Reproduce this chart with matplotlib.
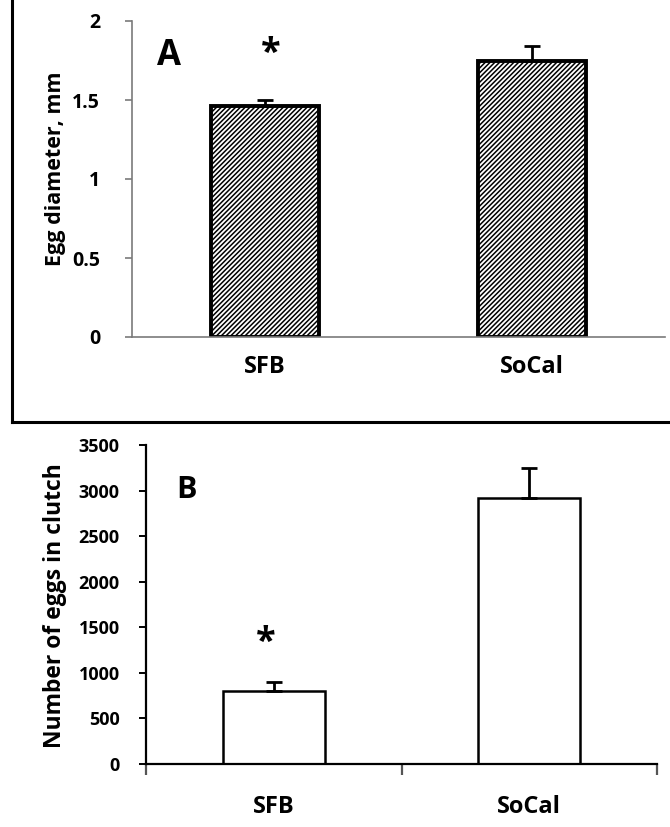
"""
Egg diameter and clutch size, SFB vs SoCal (two stacked bar panels).
"""

import matplotlib
matplotlib.use("Agg")
import matplotlib.pyplot as plt
from matplotlib.lines import Line2D

# ── Data ───────────────────────────────────────────────────
sites = ["SFB", "SoCal"]

egg_diameter = [1.46, 1.75]
egg_diameter_err = [0.04, 0.09]

clutch_size = [800, 2920]
clutch_size_err = [100, 330]

diam_ticks = [0, 0.5, 1, 1.5, 2]
diam_tick_labels = ["0", "0.5", "1", "1.5", "2"]
clutch_ticks = [0, 500, 1000, 1500, 2000, 2500, 3000, 3500]

plt.rcParams["font.family"] = ["Open Sans", "DejaVu Sans"]
plt.rcParams["font.weight"] = "bold"
plt.rcParams["hatch.linewidth"] = 1.1
plt.rcParams["hatch.color"] = "#111111"

W, H = 670, 827
fig = plt.figure(figsize=(W / 100, H / 100), dpi=100)


def frac(x0, y_top, x1, y_bot):
    """pixel box -> figure fraction rect"""
    return [x0 / W, 1 - y_bot / H, (x1 - x0) / W, (y_bot - y_top) / H]


xpos = [0.5, 1.5]

# ── Panel A ────────────────────────────────────────────────
axA = fig.add_axes(frac(132, 21, 665, 337))
axA.bar(xpos, egg_diameter, width=0.405, color="white", edgecolor="black",
        linewidth=2.8, hatch="///////", zorder=2)
axA.errorbar(xpos, egg_diameter, yerr=[[0, 0], egg_diameter_err], fmt="none",
             ecolor="black", elinewidth=2, capsize=6, capthick=2, zorder=3)
axA.set_xlim(0, 2)
axA.set_ylim(0, 2)
axA.set_yticks(diam_ticks)
axA.set_yticklabels(diam_tick_labels)
axA.set_xticks(xpos)
axA.set_xticklabels(sites)
for s in ["top", "right"]:
    axA.spines[s].set_visible(False)
for s in ["left", "bottom"]:
    axA.spines[s].set_color("#7a7a7a")
    axA.spines[s].set_linewidth(1.2)
axA.tick_params(axis="y", length=5, color="#7a7a7a", width=1.2, pad=18,
                labelsize=14)
axA.tick_params(axis="x", length=0, pad=13, labelsize=17)
fig.text(55 / W, 1 - 169 / H, "Egg diameter, mm", rotation=90,
         fontsize=15.5, fontweight="bold", ha="center", va="center")
axA.text(0.07, 0.89, "A", transform=axA.transAxes, fontsize=25,
         fontweight="bold", ha="center", va="center")
axA.text(xpos[0] + 0.02, 1.79, "*", fontsize=26, fontweight="bold",
         ha="center", va="center")

# ── Panel B ────────────────────────────────────────────────
axB = fig.add_axes(frac(146, 445, 657, 764))
axB.bar(xpos, clutch_size, width=0.4, color="white", edgecolor="black",
        linewidth=1.8, zorder=2)
axB.errorbar(xpos, clutch_size, yerr=[[0, 0], clutch_size_err], fmt="none",
             ecolor="black", elinewidth=2, capsize=6, capthick=2, zorder=3)
axB.set_xlim(0, 2)
axB.set_ylim(0, 3500)
axB.set_yticks(clutch_ticks)
axB.set_xticks([0, 1, 2])
axB.set_xticklabels([])
axB.set_xticks(xpos, minor=True)
axB.set_xticklabels(sites, minor=True)
for s in ["top", "right"]:
    axB.spines[s].set_visible(False)
for s in ["left", "bottom"]:
    axB.spines[s].set_linewidth(1.6)
axB.tick_params(axis="y", length=5, width=1.4, pad=14, labelsize=13)
axB.tick_params(axis="x", which="major", length=8, width=1.6,
                direction="out", color="#555555")
axB.tick_params(axis="x", which="minor", length=0, pad=22, labelsize=17)
fig.text(55 / W, 1 - 606 / H, "Number of eggs in clutch", rotation=90,
         fontsize=16.5, fontweight="bold", ha="center", va="center")
axB.text(0.08, 0.86, "B", transform=axB.transAxes, fontsize=22,
         fontweight="bold", ha="center", va="center")
axB.text(xpos[0] - 0.03, 1330, "*", fontsize=26, fontweight="bold",
         ha="center", va="center")

# ── Box around panel A ─────────────────────────────────────
fig.add_artist(Line2D([12 / W, 12 / W], [1, 1 - 422 / H], color="black",
                      linewidth=2.2, transform=fig.transFigure))
fig.add_artist(Line2D([12 / W, 1], [1 - 422 / H, 1 - 422 / H], color="black",
                      linewidth=2.2, transform=fig.transFigure))

fig.savefig("out.png", dpi=100)
